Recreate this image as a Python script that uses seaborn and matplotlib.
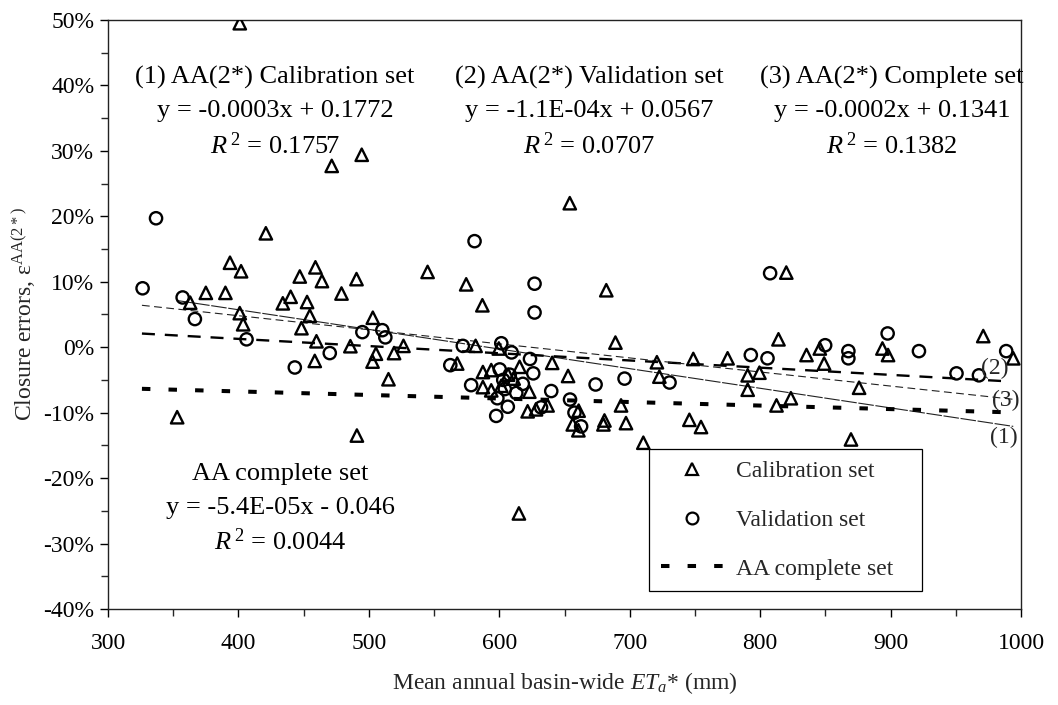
import numpy as np
import pandas as pd
import matplotlib
matplotlib.use("Agg")
import matplotlib.pyplot as plt
import seaborn as sns
from matplotlib.ticker import MultipleLocator, PercentFormatter
from matplotlib.lines import Line2D

# ---------------- data ----------------
cal_x = [401, 471.5, 494.5, 421, 393.5, 402, 447, 459, 464, 490.5, 545, 375, 390, 479, 363,
         401, 403.6, 434, 440, 452.6, 454.7, 448.3, 459.8, 458.5, 485.8, 503, 505.4, 502.8,
         519.3, 526.5, 515, 353, 490.8, 574.6, 587, 682, 689, 654, 581.8, 599.6, 640.5, 567.7,
         587.4, 593.8, 615.5, 587.4, 593.8, 623, 621.7, 628.1, 637, 660.8, 656.3, 660.6, 680.6,
         679.8, 697.1, 693.3, 652.7, 710.4, 720.8, 722.7, 748.7, 745.7, 754.6, 775, 820, 814,
         790.4, 799.4, 790.4, 812.5, 823.5, 835.5, 845.7, 849, 893.7, 898, 875.8, 971, 994,
         869.6, 615, 606.7, 601.5, 611]
cal_y = [49.5, 27.7, 29.4, 17.4, 12.9, 11.6, 10.8, 12.2, 10.1, 10.4, 11.5, 8.3, 8.3, 8.2, 6.8,
         5.2, 3.5, 6.7, 7.7, 6.9, 4.8, 2.9, 0.9, -2.1, 0.15, 4.5, -1.0, -2.2,
         -0.9, 0.2, -4.9, -10.7, -13.5, 9.6, 6.4, 8.7, 0.7, 22.0, 0.2, -0.2, -2.4, -2.5,
         -3.8, -3.5, -3.0, -6.1, -6.6, -6.8, -9.8, -9.5, -8.9, -9.7, -11.8, -12.7, -11.2,
         -11.8, -11.6, -8.9, -4.4, -14.6, -2.3, -4.5, -1.8, -11.1, -12.2, -1.7, 11.4, 1.2,
         -4.3, -3.9, -6.5, -8.9, -7.8, -1.2, -0.2, -2.5, -0.2, -1.2, -6.2, 1.7, -1.7,
         -14.1, -25.4, -4.2, -5.9, -4.8]

val_x = [326.5, 336.8, 357.2, 366.6, 406.2, 443.2, 470, 495, 510.3, 512.6, 581, 627, 627, 572,
         601.5, 609.4, 623.5, 562.4, 600.3, 626, 578.4, 618, 604.2, 613, 639.8, 598.5, 606.5,
         597.6, 632, 654.2, 657.6, 662.7, 673.8, 696, 730.5, 807.6, 792.8, 805.6, 849.8, 867.6,
         867.6, 897.7, 921.7, 950.5, 967.7, 988.6, 608, 603]
val_y = [9.0, 19.7, 7.6, 4.3, 1.2, -3.1, -0.9, 2.3, 2.6, 1.5, 16.2, 9.7, 5.3, 0.2,
         0.6, -0.8, -1.8, -2.75, -3.4, -4.0, -5.8, -5.6, -6.4, -7.0, -6.7, -7.8, -9.1,
         -10.5, -9.2, -8.0, -10.0, -12.1, -5.7, -4.8, -5.4, 11.3, -1.2, -1.7, 0.3, -0.6,
         -1.7, 2.1, -0.6, -4.0, -4.3, -0.6, -4.2, -5.0]

# trend lines: (1) calibration, (2) validation, (3) complete, AA complete set
trend_labels = ["(1)", "(2)", "(3)", "AA"]
trend_slope = [-0.0003, -0.00011, -0.000215, -0.000054]
trend_intercept = [0.1772, 0.0567, 0.1341, -0.046]
trend_xmin = [353, 326, 326, 326]
trend_xmax = [994, 989, 994, 994]

x_ticks = [300, 400, 500, 600, 700, 800, 900, 1000]

# ---------------- style ----------------
sns.set_style("ticks")
plt.rcParams["font.family"] = ["Liberation Serif", "DejaVu Serif"]
plt.rcParams["mathtext.fontset"] = "custom"
plt.rcParams["mathtext.rm"] = "Liberation Serif"
plt.rcParams["mathtext.it"] = "Liberation Serif:italic"
plt.rcParams["mathtext.bf"] = "Liberation Serif:bold"
plt.rcParams["axes.unicode_minus"] = False

fig = plt.figure(figsize=(10.58, 7.05), dpi=100)
ax = fig.add_axes([0.1021, 0.1362, 0.863, 0.8355])

cal = pd.DataFrame({"x": cal_x, "y": cal_y})
val = pd.DataFrame({"x": val_x, "y": val_y})

# trend lines
line_styles = [
    dict(lw=0.8, color="#222222", dashes=(14, 1.5)),
    dict(lw=1.7, color="black", dashes=(5.5, 4.2)),
    dict(lw=0.8, color="#222222", dashes=(7, 4)),
    dict(lw=2.9, color="black", dashes=(2.1, 4.5)),
]
for i in range(len(trend_labels)):
    xs = np.linspace(trend_xmin[i], trend_xmax[i], 50)
    ys = 100 * (trend_slope[i] * xs + trend_intercept[i])
    sns.lineplot(x=xs, y=ys, ax=ax, color=line_styles[i]["color"],
                 lw=line_styles[i]["lw"], zorder=2)
    ax.lines[-1].set_dashes(line_styles[i]["dashes"])
    ax.lines[-1].set_dash_capstyle("butt")

sns.scatterplot(data=cal, x="x", y="y", ax=ax, marker="^", s=80,
                facecolor="none", edgecolor="black", linewidth=1.7, zorder=3)
sns.scatterplot(data=val, x="x", y="y", ax=ax, marker="o", s=78,
                facecolor="none", edgecolor="black", linewidth=1.7, zorder=3)

ax.set_xlim(300, 1000)
ax.set_ylim(-40, 50)
ax.set_xticks(x_ticks)
ax.xaxis.set_minor_locator(MultipleLocator(50))
ax.yaxis.set_major_locator(MultipleLocator(10))
ax.yaxis.set_minor_locator(MultipleLocator(5))
ax.yaxis.set_major_formatter(PercentFormatter(xmax=100, decimals=0))
ax.tick_params(axis="both", which="major", direction="out", length=6, width=1,
               labelsize=17, pad=4, colors="black")
ax.tick_params(axis="both", which="minor", direction="out", length=5, width=1)
ax.tick_params(axis="x", which="major", pad=11)
for sp in ax.spines.values():
    sp.set_visible(True)
    sp.set_linewidth(1.0)
    sp.set_color("#222222")

ax.set_xlabel(r"Mean annual basin-wide $\mathit{ET}_{\mathit{a}}$* (mm)", fontsize=17, labelpad=12)
ax.set_ylabel("Closure errors, \u03b5" + r"$^{\mathrm{AA(2*)}}$", fontsize=17, labelpad=4)

# annotations
fs = 19
groups = [
    (428, ["(1) AA(2*) Calibration set", "y = -0.0003x + 0.1772", r"$\mathit{R}^{\,\mathrm{2}}$ = 0.1757"], [41.2, 36.1, 30.8]),
    (669, ["(2) AA(2*) Validation set", "y = -1.1E-04x + 0.0567", r"$\mathit{R}^{\,\mathrm{2}}$ = 0.0707"], [41.2, 36.1, 30.8]),
    (901, ["(3) AA(2*) Complete set", "y = -0.0002x + 0.1341", r"$\mathit{R}^{\,\mathrm{2}}$ = 0.1382"], [41.2, 36.1, 30.8]),
    (432, ["AA complete set", "y = -5.4E-05x - 0.046", r"$\mathit{R}^{\,\mathrm{2}}$ = 0.0044"], [-19.4, -24.5, -29.7]),
]
for gx, lines, ys in groups:
    for t, gy in zip(lines, ys):
        ax.text(gx, gy, t, ha="center", va="center", fontsize=fs, color="black", zorder=4)

ax.text(980, -3.3, "(2)", ha="center", va="center", fontsize=17, zorder=4)
ax.text(988, -8.1, "(3)", ha="center", va="center", fontsize=17, zorder=4)
ax.text(987, -13.8, "(1)", ha="center", va="center", fontsize=17, zorder=4)

# legend
handles = [
    Line2D([], [], ls="none", marker="^", ms=8.5, mfc="none", mec="black", mew=1.6),
    Line2D([], [], ls="none", marker="o", ms=8.5, mfc="none", mec="black", mew=1.6),
    Line2D([], [], color="black", lw=2.9, dashes=(2.1, 4.5), dash_capstyle="butt"),
]
leg = ax.legend(handles, ["Calibration set", "Validation set", "AA complete set"],
                loc="lower left", bbox_to_anchor=(0.593, 0.030, 0.298, 0.245), mode="expand",
                fontsize=17, frameon=True, fancybox=False, framealpha=1, edgecolor="black",
                borderpad=0.5, labelspacing=1.15, handlelength=2.6, handletextpad=0.55,
                borderaxespad=0)
leg.get_frame().set_linewidth(0.9)
leg.set_zorder(5)

fig.savefig("out.png", dpi=100)
